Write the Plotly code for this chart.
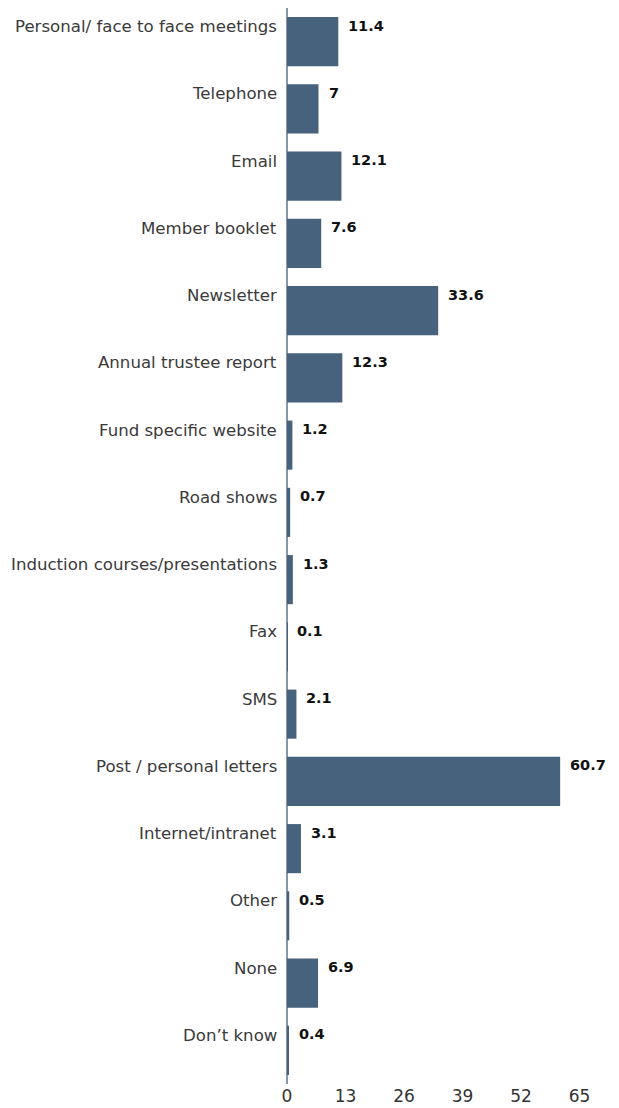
import plotly.graph_objects as go

categories = ["Personal/ face to face meetings", "Telephone", "Email", "Member booklet",
              "Newsletter", "Annual trustee report", "Fund specific website", "Road shows",
              "Induction courses/presentations", "Fax", "SMS", "Post / personal letters",
              "Internet/intranet", "Other", "None", "Don\u2019t know"]
values = [11.4, 7, 12.1, 7.6, 33.6, 12.3, 1.2, 0.7, 1.3, 0.1, 2.1, 60.7, 3.1, 0.5, 6.9, 0.4]
tick_vals = [0, 13, 26, 39, 52, 65]

BAR = "#46627c"
fig = go.Figure(go.Bar(
    x=values, y=categories, orientation="h",
    marker=dict(color=BAR, line=dict(width=0)),
    hoverinfo="x+y",
))

for c, v in zip(categories, values):
    # value label, placed near the top edge of the bar
    fig.add_annotation(x=v, y=c, text="<b>%s</b>" % v, showarrow=False,
                       xanchor="left", yanchor="middle", xshift=8, yshift=16,
                       font=dict(family="DejaVu Sans", size=14.5, color="#111111"))
    # category label, also raised toward the top of the bar
    fig.add_annotation(x=0, y=c, text=c, showarrow=False,
                       xanchor="right", yanchor="middle", xshift=-8, yshift=15,
                       font=dict(family="DejaVu Sans", size=16.6, color="#3a3a3a"))

fig.update_layout(
    width=611, height=1098,
    margin=dict(l=279, r=17, t=0, b=22, autoexpand=False),
    paper_bgcolor="white", plot_bgcolor="white",
    bargap=0.27, showlegend=False,
    font=dict(family="DejaVu Sans", color="#333333"),
)
fig.update_yaxes(autorange="reversed", showgrid=False, zeroline=False,
                 showline=False, ticks="", showticklabels=False, automargin=False)
fig.update_xaxes(range=[0, 70], tickvals=tick_vals, showgrid=False,
                 zeroline=True, zerolinecolor="#8796a8", zerolinewidth=1.5,
                 showline=False, ticks="", automargin=False, ticklabelstandoff=0,
                 tickfont=dict(family="DejaVu Sans", size=17, color="#333333"))

fig.write_html("out.html")
